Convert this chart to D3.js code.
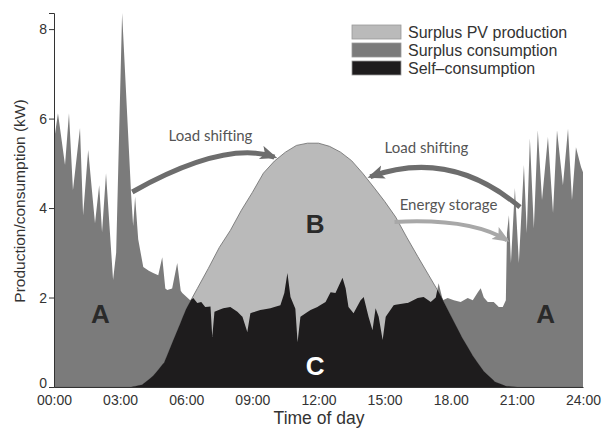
<!DOCTYPE html>
<html><head><meta charset="utf-8">
<script src="https://cdn.jsdelivr.net/npm/d3@7"></script>
<style>body{margin:0;background:#fff}svg{display:block}</style>
</head><body>
<svg id="c" width="602" height="433"></svg>
<script>
// ---- data ----
const consHour = [0.00,0.18,0.50,0.68,0.86,1.18,1.32,1.55,1.86,2.05,2.18,2.36,2.68,2.82,3.09,3.50,3.59,3.68,3.82,4.05,4.30,4.50,4.73,4.91,5.05,5.14,5.36,5.59,5.75,5.82,6.18,6.32,6.50,6.68,6.86,7.10,7.18,7.28,7.68,8.00,8.32,8.55,8.77,8.91,9.36,9.82,10.27,10.45,10.59,10.73,10.95,11.05,11.18,11.64,11.95,12.32,12.55,12.77,13.09,13.23,13.36,13.59,13.91,14.05,14.27,14.45,14.59,14.73,14.91,15.05,15.41,16.05,16.50,16.77,17.09,17.32,17.45,17.64,17.86,18.14,18.45,18.77,19.00,19.23,19.36,19.50,19.68,19.95,20.18,20.36,20.50,20.55,20.64,20.73,20.91,21.09,21.32,21.45,21.59,21.77,21.95,22.14,22.41,22.64,22.82,23.09,23.32,23.50,23.68,23.91,24.00];
const consKW   = [5.50,6.12,4.96,6.12,4.40,5.79,3.84,5.30,3.66,4.51,3.46,4.78,2.39,3.00,8.36,4.30,3.60,4.25,3.30,2.68,2.60,2.55,2.50,2.90,2.20,2.17,2.20,2.77,2.15,2.10,1.94,1.99,1.88,1.90,1.79,1.80,1.12,1.68,1.76,1.79,1.68,1.57,1.23,1.65,1.72,1.76,1.83,2.10,2.55,2.01,1.75,1.00,1.57,1.72,1.79,1.90,2.12,2.10,2.44,2.21,1.79,1.65,1.94,2.01,1.57,1.27,1.76,1.57,1.05,1.57,1.83,1.88,1.99,2.01,1.90,2.00,2.32,1.94,1.99,1.94,1.90,1.99,1.94,2.12,2.21,2.00,1.90,1.90,1.79,1.79,1.94,3.44,3.84,2.77,4.45,2.77,4.96,3.44,5.56,3.55,5.74,4.18,5.59,3.89,5.74,4.51,5.77,4.18,5.36,4.92,4.80];
const pvHour = [0,3.5,4.0,4.5,5.0,5.5,6.0,6.5,7.0,7.5,8.0,8.5,9.0,9.5,10.0,10.5,11.0,11.5,12.0,12.5,13.0,13.5,14.0,14.5,15.0,15.5,16.0,16.5,17.0,17.5,18.0,18.5,19.0,19.5,20.0,20.5,21.0,24.0];
const pvKW   = [0,0,0.05,0.25,0.55,1.15,1.75,2.2,2.65,3.12,3.5,3.95,4.35,4.78,5.05,5.25,5.4,5.45,5.45,5.38,5.25,5.06,4.78,4.47,4.15,3.8,3.35,2.92,2.5,2.08,1.6,1.12,0.7,0.35,0.12,0.02,0,0];
const xTicks = [0,3,6,9,12,15,18,21,24];
const xTickLabels = ["00:00","03:00","06:00","09:00","12:00","15:00","18.00","21:00","24:00"];
const yTicks = [0,2,4,6,8];
const legendLabels = ["Surplus PV production","Surplus consumption","Self\u2013consumption"];
const colors = ["#bababa","#7b7b7b","#1e1c1d"];

// ---- scales ----
const svg = d3.select("#c");
const x = d3.scaleLinear().domain([0,24]).range([54,583]);
const y = d3.scaleLinear().domain([0,8.36]).range([387,13]);

function interp(hs, vs, t){
  const i = Math.min(Math.max(d3.bisectRight(hs, t),1), hs.length-1);
  const h0=hs[i-1], h1=hs[i];
  const f = h1===h0?0:(t-h0)/(h1-h0);
  return vs[i-1]+(vs[i]-vs[i-1])*f;
}
// union grid with crossing points
let grid = Array.from(new Set(consHour.concat(pvHour))).sort((a,b)=>a-b);
const full=[];
for(let i=0;i<grid.length;i++){
  const t=grid[i];
  if(i>0){
    const t0=grid[i-1];
    const d0=interp(pvHour,pvKW,t0)-interp(consHour,consKW,t0);
    const d1=interp(pvHour,pvKW,t)-interp(consHour,consKW,t);
    if(d0*d1<0){ full.push(t0+(t-t0)*d0/(d0-d1)); }
  }
  full.push(t);
}
const selfData = full.map(t=>({h:t, v:Math.min(interp(pvHour,pvKW,t), interp(consHour,consKW,t))}));
const consData = consHour.map((h,i)=>({h, v:consKW[i]}));
const pvData = pvHour.map((h,i)=>({h, v:pvKW[i]}));

const area = d3.area().x(d=>x(d.h)).y0(y(0)).y1(d=>y(d.v));
const line = d3.line().x(d=>x(d.h)).y(d=>y(d.v));

svg.append("path").datum(consData).attr("d",area).attr("fill",colors[1]);
svg.append("path").datum(pvData).attr("d",area).attr("fill",colors[0]);
svg.append("path").datum(pvData).attr("d",line).attr("fill","none").attr("stroke","#6a6a6a").attr("stroke-width",0.8);
svg.append("path").datum(selfData).attr("d",area).attr("fill",colors[2]);

// ---- axes ----
const FONT = "'Liberation Sans',Arial,sans-serif";
const yAxis = svg.append("g").attr("transform",`translate(${x(0)},0)`)
  .call(d3.axisLeft(y).tickValues(yTicks).tickSize(5).tickPadding(2).tickFormat(d3.format("d")));
yAxis.select(".domain").attr("stroke","#333");
yAxis.selectAll(".tick line").attr("stroke","#333");
yAxis.selectAll("text").attr("font-family",FONT).attr("font-size",14).attr("fill","#333");
yAxis.selectAll(".tick text").filter(d=>d===0).attr("dy","0.05em");

const xAxis = svg.append("g").attr("transform",`translate(0,${y(0)})`)
  .call(d3.axisBottom(x).tickValues(xTicks).tickSize(0).tickPadding(8).tickFormat((d,i)=>xTickLabels[i]));
xAxis.select(".domain").attr("stroke","#333");
xAxis.selectAll("text").attr("font-family",FONT).attr("font-size",14).attr("fill","#333");

svg.append("text").attr("x",319).attr("y",424).attr("text-anchor","middle")
  .attr("font-family",FONT).attr("font-size",17.5).attr("fill","#333").text("Time of day");
svg.append("text").attr("transform","translate(25,201) rotate(-90)").attr("text-anchor","middle")
  .attr("font-family",FONT).attr("font-size",15.5).attr("fill","#333").text("Production/consumption (kW)");

// ---- legend ----
const lg = svg.append("g").attr("transform","translate(352,25)");
legendLabels.forEach((lab,i)=>{
  lg.append("rect").attr("x",0).attr("y",i*18).attr("width",49).attr("height",14)
    .attr("fill",colors[i]).attr("stroke","#999").attr("stroke-width",0.8);
  lg.append("text").attr("x",56).attr("y",i*18+12.5)
    .attr("font-family",FONT).attr("font-size",16).attr("fill","#333").text(lab);
});

// ---- annotations ----
const defs = svg.append("defs");
function marker(id, col){
  defs.append("marker").attr("id",id).attr("markerUnits","userSpaceOnUse")
    .attr("markerWidth",20).attr("markerHeight",16).attr("refX",14).attr("refY",7).attr("orient","auto")
    .append("path").attr("d","M0,0 L17,7 L0,14 L4,7 z").attr("fill",col);
}
marker("mDark","#6d6d6d");
marker("mLight","#a8a8a8");
const arrows = [
  {s:[3.55,4.36], c:[7.76,5.52], e:[10.0,5.14], col:"#6d6d6d", w:5, m:"mDark"},
  {s:[21.14,4.02], c:[17.96,5.34], e:[14.35,4.70], col:"#6d6d6d", w:5, m:"mDark"},
  {s:[15.45,3.69], c:[18.9,3.78], e:[20.55,3.28], col:"#a8a8a8", w:4, m:"mLight"}
];
arrows.forEach(a=>{
  svg.append("path")
    .attr("d",`M${x(a.s[0])},${y(a.s[1])} Q${x(a.c[0])},${y(a.c[1])} ${x(a.e[0])},${y(a.e[1])}`)
    .attr("fill","none").attr("stroke",a.col).attr("stroke-width",a.w).attr("marker-end",`url(#${a.m})`);
});
const notes = [
  {t:"Load shifting", h:7.1, k:5.5},
  {t:"Load shifting", h:16.9, k:5.23},
  {t:"Energy storage", h:17.9, k:3.96}
];
notes.forEach(n=>{
  svg.append("text").attr("x",x(n.h)).attr("y",y(n.k)).attr("text-anchor","middle")
    .attr("font-family","Lato,'Open Sans',sans-serif").attr("font-size",15).attr("fill","#555").text(n.t);
});
const letters = [
  {t:"A", h:2.1, k:1.43, col:"#2a2a2a"},
  {t:"A", h:22.3, k:1.43, col:"#2a2a2a"},
  {t:"B", h:11.85, k:3.45, col:"#2a2a2a"},
  {t:"C", h:11.85, k:0.27, col:"#ffffff"}
];
letters.forEach(l=>{
  svg.append("text").attr("x",x(l.h)).attr("y",y(l.k)).attr("text-anchor","middle")
    .attr("font-family",FONT).attr("font-weight","bold")
    .attr("font-size",26).attr("fill",l.col).text(l.t);
});
</script>
</body></html>
